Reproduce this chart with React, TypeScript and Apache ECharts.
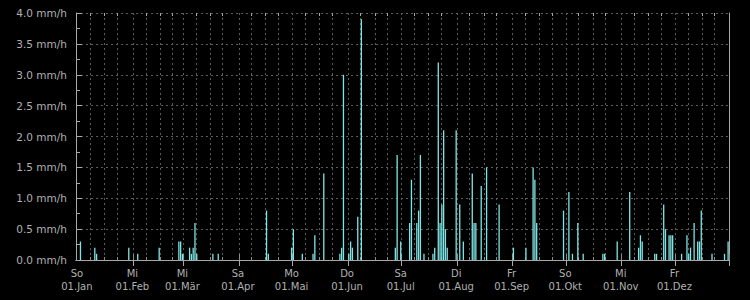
import React, { useEffect, useRef } from 'react';
import * as echarts from 'echarts';

const YEAR = 2017;
const YEAR_DAYS = 365;
const monthStartDay = [0, 31, 59, 90, 120, 151, 181, 212, 243, 273, 304, 334];
const monthWeekday = ['So', 'Mi', 'Mi', 'Sa', 'Mo', 'Do', 'Sa', 'Di', 'Fr', 'So', 'Mi', 'Fr'];
const monthName = ['Jan', 'Feb', 'Mär', 'Apr', 'Mai', 'Jun', 'Jul', 'Aug', 'Sep', 'Okt', 'Nov', 'Dez'];

// day of year (0 = 01.Jan) and rain rate in mm/h
const rainDay = [
  2, 10, 11, 29, 34, 46, 57, 58, 59, 63, 64, 65, 66, 67, 76, 79,
  106, 107, 120, 121, 126, 132, 133, 138, 147, 148, 149, 152, 153, 154, 157, 159,
  178, 179, 181, 186, 187, 190, 191, 192, 194, 199, 200, 202, 203, 204, 205, 206, 207,
  212, 214, 216, 221, 222, 223, 226, 229, 236,
  244, 251, 255, 256, 257, 272, 275, 277, 280, 283, 294, 295, 302,
  309, 314, 315, 316, 323, 324, 328, 329, 331, 332, 333, 338, 341, 342, 343, 345,
  347, 348, 349, 355, 362, 364,
];
const rainRate = [
  0.3, 0.2, 0.1, 0.2, 0.1, 0.2, 0.3, 0.3, 0.1, 0.2, 0.1, 0.2, 0.6, 0.1, 0.1, 0.1,
  0.8, 0.1, 0.2, 0.5, 0.1, 0.1, 0.4, 1.4, 0.1, 0.2, 3.0, 0.1, 0.3, 0.2, 0.7, 3.9,
  0.2, 1.7, 0.3, 0.6, 1.3, 0.6, 0.8, 1.7, 0.1, 0.1, 0.2, 3.2, 0.6, 0.9, 2.1, 0.5, 0.2,
  2.1, 0.9, 0.3, 1.4, 0.6, 0.6, 1.2, 1.5, 0.9,
  0.2, 0.2, 1.5, 1.3, 0.6, 0.8, 1.1, 0.1, 0.6, 0.1, 0.1, 0.1, 0.3,
  1.1, 0.2, 0.4, 0.3, 0.1, 0.1, 0.9, 0.5, 0.4, 0.4, 0.4, 0.1, 0.4, 0.1, 0.2, 0.6,
  0.3, 0.3, 0.8, 0.1, 0.1, 0.3,
];

const Y_MIN = 0;
const Y_MAX = 4;
const Y_STEP = 0.5;

export default function App() {
  const ref = useRef<HTMLDivElement>(null);

  useEffect(() => {
    document.body.style.margin = '0';
    if (!ref.current) return;
    const chart = echarts.init(ref.current, null, { renderer: 'svg' });

    const dayLabels: string[] = [];
    for (let i = 0; i < YEAR_DAYS; i++) {
      const d = new Date(Date.UTC(YEAR, 0, 1 + i));
      dayLabels.push(d.toISOString().slice(0, 10));
    }
    const values: (number | string)[] = dayLabels.map(() => '-');
    rainDay.forEach((d, k) => {
      values[d] = rainRate[k];
    });

    const labelSet = new Set(monthStartDay);
    const majorSet = new Set(monthStartDay.slice(1).map((m) => m + 1));
    const minorSet = new Set(monthStartDay.flatMap((m) => [m + 8, m + 16, m + 23]));
    const gridSet = new Set([...majorSet, ...minorSet]);

    const axisGrey = '#a8a8a8';
    const gridGrey = '#5c5c5c';
    const textGrey = '#b0b0b0';
    const font = 'DejaVu Sans';

    const common = { type: 'category', data: dayLabels, boundaryGap: true };
    const gridRect = { left: 76, right: 21, top: 13, bottom: 40, outerBoundsMode: 'none' };

    chart.setOption({
      animation: false,
      backgroundColor: '#000000',
      textStyle: { fontFamily: font },
      grid: [gridRect, { ...gridRect }],
      xAxis: [
        {
          ...common,
          gridIndex: 0,
          position: 'bottom',
          axisLine: { show: true, lineStyle: { color: axisGrey, width: 1 } },
          axisTick: {
            show: true,
            inside: true,
            length: 6,
            interval: (i: number) => majorSet.has(i),
            lineStyle: { color: '#8a8a8a' },
          },
          axisLabel: {
            show: true,
            interval: (i: number) => labelSet.has(i),
            formatter: (v: string) => {
              const m = Number(v.slice(5, 7)) - 1;
              return monthWeekday[m] + '\n01.' + monthName[m];
            },
            color: textGrey,
            fontSize: 10,
            fontFamily: font,
            lineHeight: 13,
            margin: 7,
          },
          splitLine: {
            show: true,
            interval: (i: number) => gridSet.has(i),
            lineStyle: { color: gridGrey, type: [2, 3], width: 1 },
          },
        },
        {
          ...common,
          gridIndex: 0,
          position: 'top',
          axisLine: { show: true, lineStyle: { color: axisGrey, width: 1 } },
          axisTick: {
            show: true,
            inside: true,
            length: 6,
            interval: (i: number) => majorSet.has(i),
            lineStyle: { color: axisGrey },
          },
          axisLabel: { show: false },
          splitLine: { show: false },
        },
        {
          ...common,
          gridIndex: 1,
          position: 'bottom',
          axisLine: { show: false },
          axisTick: {
            show: true,
            inside: true,
            length: 3,
            interval: (i: number) => minorSet.has(i),
            lineStyle: { color: '#8a8a8a' },
          },
          axisLabel: { show: false },
          splitLine: { show: false },
        },
        {
          ...common,
          gridIndex: 1,
          position: 'top',
          axisLine: { show: false },
          axisTick: {
            show: true,
            inside: true,
            length: 3,
            interval: (i: number) => minorSet.has(i),
            lineStyle: { color: axisGrey },
          },
          axisLabel: { show: false },
          splitLine: { show: false },
        },
      ],
      yAxis: [
        {
          type: 'value',
          gridIndex: 0,
          position: 'left',
          min: Y_MIN,
          max: Y_MAX,
          interval: Y_STEP,
          axisLine: { show: true, lineStyle: { color: axisGrey, width: 1 } },
          axisTick: { show: true, inside: true, length: 6, lineStyle: { color: axisGrey } },
          minorTick: { show: true, splitNumber: 2, length: 4, lineStyle: { color: axisGrey } },
          axisLabel: {
            formatter: (v: number) => v.toFixed(1) + ' mm/h',
            color: textGrey,
            fontSize: 10.5,
            fontFamily: font,
            margin: 9,
          },
          splitLine: { show: true, lineStyle: { color: gridGrey, type: [2, 3], width: 1 } },
        },
        {
          type: 'value',
          gridIndex: 0,
          position: 'right',
          min: Y_MIN,
          max: Y_MAX,
          interval: Y_STEP,
          axisLine: { show: true, lineStyle: { color: axisGrey, width: 1 } },
          axisTick: { show: false },
          axisLabel: { show: false },
          splitLine: { show: false },
        },
        {
          type: 'value',
          gridIndex: 1,
          min: Y_MIN,
          max: Y_MAX,
          show: false,
        },
      ],
      series: [
        {
          type: 'bar',
          xAxisIndex: 0,
          yAxisIndex: 0,
          data: values,
          barWidth: 1.3,
          itemStyle: { color: '#7ee6e6' },
          silent: true,
        },
      ],
    });

    return () => chart.dispose();
  }, []);

  return (
    <div
      ref={ref}
      style={{ position: 'absolute', left: 0, top: 0, width: 750, height: 300, background: '#000' }}
    />
  );
}
